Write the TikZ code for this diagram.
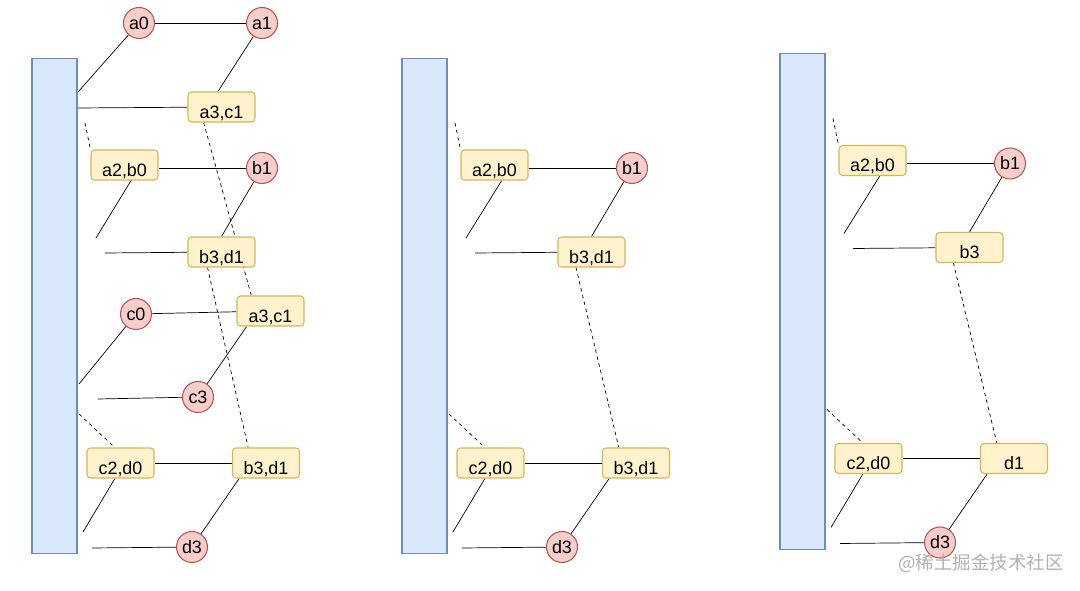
\documentclass[tikz,border=0pt]{standalone}
\usepackage{fontspec}
\setmainfont{Liberation Sans}
\newfontfamily\cjkfont{Noto Sans CJK SC}
\usepackage{tikz}
\usetikzlibrary{backgrounds}
\definecolor{barfill}{HTML}{DAE8FC}
\definecolor{bardraw}{HTML}{6C8EBF}
\definecolor{kfill}{HTML}{FFF2CC}
\definecolor{kdraw}{HTML}{D6B656}
\definecolor{cfill}{HTML}{F8CECC}
\definecolor{cdraw}{HTML}{B85450}

\begin{document}
\begin{tikzpicture}[x=0.02cm,y=-0.02cm,line width=0.75pt,
    bar/.style={draw=bardraw,fill=barfill,line width=0.6pt,minimum width=0.9cm,minimum height=9.92cm,inner sep=0pt},
    kbox/.style={draw=kdraw,fill=kfill,line width=0.6pt,rounded corners=2pt,minimum width=1.34cm,minimum height=0.6cm,
      inner sep=1pt,text height=13pt,text depth=0pt,font=\fontsize{10.2}{12}\selectfont},
    kcirc/.style={circle,draw=cdraw,fill=cfill,line width=0.6pt,minimum size=0.62cm,inner sep=0pt,font=\fontsize{10.2}{12}\selectfont},
    skip/.style={dash pattern=on 2pt off 2pt}]
      \useasboundingbox (0,0) rectangle (1080,591);

      % first table
      \path
      (54.5,306) node[bar](bar1) {}
      (139,23) node[kcirc](a0) {a0}
      (262,23) node[kcirc](a1) {a1}
      (221.5,107) node[kbox](a3c1-1) {a3,c1}
      (124.5,165) node[kbox](a2b0-1) {a2,b0}
      (262,168) node[kcirc](b1-1) {b1}
      (221.5,252) node[kbox](b3d1-1) {b3,d1}
      (136,314) node[kcirc](c0) {c0}
      (270.5,311) node[kbox](a3c1-2) {a3,c1}
      (198,397) node[kcirc](c3) {c3}
      (120.5,463) node[kbox](c2d0-1) {c2,d0}
      (266,463) node[kbox](b3d1-2) {b3,d1}
      (192,547) node[kcirc](d3-1) {d3}
      ;
      \coordinate (p1) at (78,92);
      \coordinate (p2) at (77,108);
      \coordinate (p3) at (85,123);
      \coordinate (p4) at (96,238);
      \coordinate (p5) at (105,253);
      \coordinate (p6) at (79,384);
      \coordinate (p7) at (98,399);
      \coordinate (p8) at (79,414);
      \coordinate (p9) at (83,532);
      \coordinate (p10) at (92,548);

      % second table
      \path
      (424.5,306) node[bar](bar2) {}
      (494.5,165) node[kbox](a2b0-3) {a2,b0}
      (632,168) node[kcirc](b1-3) {b1}
      (591.5,252) node[kbox](b3d1-3) {b3,d1}
      (490.5,463) node[kbox](c2d0-3) {c2,d0}
      (636,463) node[kbox](b3d1-4) {b3,d1}
      (562,547) node[kcirc](d3-3) {d3}
      ;
      \coordinate (q3) at (455,123);
      \coordinate (q4) at (466,238);
      \coordinate (q5) at (475,253);
      \coordinate (q8) at (449,414);
      \coordinate (q9) at (453,532);
      \coordinate (q10) at (462,548);

      % third table
      \path
      (802.5,301.5) node[bar](bar3) {}
      (872.5,160.5) node[kbox](a2b0-5) {a2,b0}
      (1010,163.5) node[kcirc](b1-5) {b1}
      (969.5,247.5) node[kbox](b3-5) {b3}
      (868.5,458.5) node[kbox](c2d0-5) {c2,d0}
      (1014,458.5) node[kbox](d1-5) {d1}
      (940,542.5) node[kcirc](d3-5) {d3}
      ;
      \coordinate (r3) at (833,118.5);
      \coordinate (r4) at (844,233.5);
      \coordinate (r5) at (853,248.5);
      \coordinate (r8) at (827,409.5);
      \coordinate (r9) at (831,527.5);
      \coordinate (r10) at (840,543.5);

      \node[text=black!30,font=\cjkfont\fontsize{10.5}{13}\selectfont] (mark) at (981,563) {@稀土掘金技术社区};

      \begin{scope}[on background layer]
      \draw (a0) -- (p1);
      \draw (a0) -- (a1);
      \draw (a1) -- (a3c1-1.103);
      \draw (p2) -- (a3c1-1);
      \draw[skip] (p3) -- (a2b0-1.north west);
      \draw[skip] (a3c1-1.221) -- (a3c1-2.141);
      \draw (a2b0-1.east |- b1-1) -- (b1-1);
      \draw (a2b0-1.293) -- (p4);
      \draw (b1-1) -- (b3d1-1.north);
      \draw (p5) -- (b3d1-1);
      \draw[skip] (b3d1-1.228) -- (b3d1-2.139);
      \draw (c0) -- (a3c1-2);
      \draw (c0) -- (p6);
      \draw (p7) -- (c3);
      \draw (a3c1-2.213) -- (c3);
      \draw[skip] (p8) -- (c2d0-1.110);
      \draw (c2d0-1) -- (b3d1-2);
      \draw (c2d0-1.250) -- (p9);
      \draw (p10) -- (d3-1);
      \draw (b3d1-2.210) -- (d3-1);

      \draw[skip] (q3) -- (a2b0-3.north west);
      \draw (a2b0-3.east |- b1-3) -- (b1-3);
      \draw (a2b0-3.295) -- (q4);
      \draw (b1-3) -- (b3d1-3.north);
      \draw (q5) -- (b3d1-3);
      \draw[skip] (b3d1-3.225) -- (b3d1-4.138);
      \draw[skip] (q8) -- (c2d0-3.110);
      \draw (c2d0-3) -- (b3d1-4);
      \draw (c2d0-3.250) -- (q9);
      \draw (q10) -- (d3-3);
      \draw (b3d1-4.210) -- (d3-3);

      \draw[skip] (r3) -- (a2b0-5.north west);
      \draw (a2b0-5.east |- b1-5) -- (b1-5);
      \draw (a2b0-5.295) -- (r4);
      \draw (b1-5) -- (b3-5.north);
      \draw (r5) -- (b3-5);
      \draw[skip] (b3-5.224) -- (d1-5.138);
      \draw[skip] (r8) -- (c2d0-5.110);
      \draw (c2d0-5) -- (d1-5);
      \draw (c2d0-5.250) -- (r9);
      \draw (r10) -- (d3-5);
      \draw (d1-5.210) -- (d3-5);
      \end{scope}
    \end{tikzpicture}
\end{document}
